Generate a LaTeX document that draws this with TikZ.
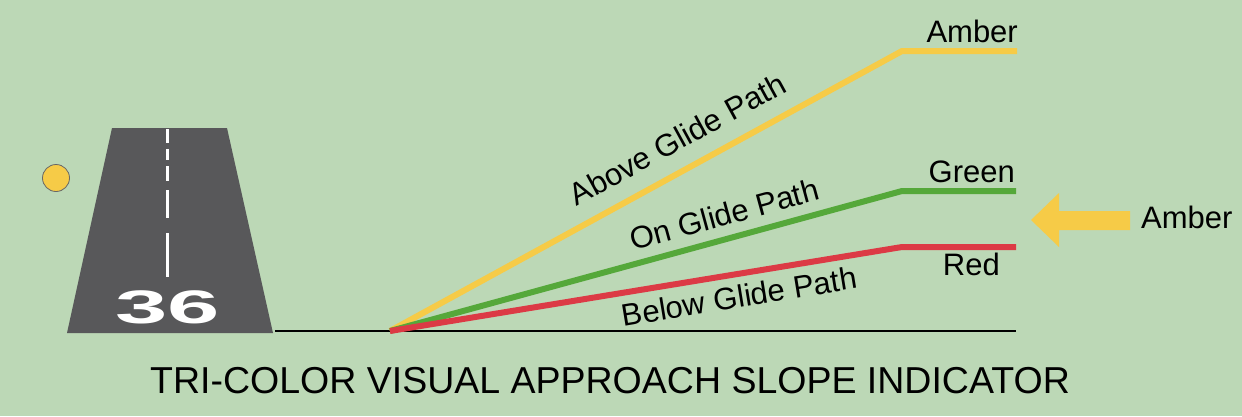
\documentclass[tikz,border=0pt]{standalone}
\usepackage{fontspec}
\setmainfont{Liberation Sans}
\usepackage{xcolor}
\usetikzlibrary{positioning}

\definecolor{fieldgreen}{HTML}{BCD8B6}
\definecolor{tarmac}{HTML}{58585A}
\definecolor{vasiamber}{HTML}{F6CB47}
\definecolor{vasigreen}{HTML}{55A83A}
\definecolor{vasired}{HTML}{DC3A45}

\begin{document}
\begin{tikzpicture}[
    x=1pt, y=-1pt,
    label/.style={
        font=\fontsize{31}{36}\selectfont,
        text=black,
        inner sep=0pt
    },
    glide/.style={
        line width=6pt,
        line join=miter
    },
    pathtext/.style={
        label,
        sloped
    }
]

% =========================================================
% Background and runway
% =========================================================
\fill[fieldgreen] (0,0) rectangle (1242,416);
\useasboundingbox (0,0) rectangle (1242,416);

\fill[tarmac] (112,128) -- (227,128) -- (273,333) -- (67,333) -- cycle;
\foreach \ya/\yb in {129/143, 149/160, 166/181, 190/218, 233/277}
    \draw[white, line width=3pt] (167,\ya) -- (167,\yb);

\node[anchor=base, text=white, inner sep=0pt] (rwynum) at (168,323)
    {\fontsize{47}{47}\selectfont\bfseries\scalebox{2}[1]{36}};

\node[circle, fill=vasiamber, draw=black!60, line width=0.8pt,
      minimum size=27pt, inner sep=0pt] (vasilight) at (56,178) {};

% =========================================================
% Ground line and glide paths
% =========================================================
\coordinate (groundL) at (275,331);
\coordinate (groundR) at (1016,331);
\coordinate (vasi) at (390,331);
\coordinate (amberbend) at (902,51);
\coordinate (amberend) at (1017,51);
\coordinate (greenbend) at (902,191);
\coordinate (greenend) at (1016,191);
\coordinate (redbend) at (902,247);
\coordinate (redend) at (1016,247);

\draw[black, line width=2.5pt] (groundL) -- (groundR);

\draw[glide, vasiamber] (vasi) --
    node[pathtext, above, inner ysep=16pt, pos=0.59] (abovetxt) {Above Glide Path}
    (amberbend) -- (amberend);
\draw[glide, vasigreen] (vasi) --
    node[pathtext, above, inner ysep=10pt, pos=0.665] (ontxt) {On Glide Path}
    (greenbend) -- (greenend);
\draw[glide, vasired] (vasi) --
    node[pathtext, below, inner ysep=8pt, pos=0.675] (belowtxt) {Below Glide Path}
    (redbend) -- (redend);

% =========================================================
% Colour labels
% =========================================================
\node[label, anchor=base east] (ambertop) at (1018,42) {Amber};
\node[label, anchor=base east] (greentxt) at (1015,182) {Green};
\node[label, anchor=base east] (redtxt) at (1000,275) {Red};

\node[label, anchor=base west] (amberside) at (1141,228) {Amber};
\fill[vasiamber] (1031,220) -- (1059,193) -- (1059,211) -- (1130,211)
    -- (1130,230) -- (1059,230) -- (1059,247) -- cycle;

% =========================================================
% Title
% =========================================================
\node[anchor=base, inner sep=0pt, font=\fontsize{37.5}{40}\selectfont] (title) at (610,393)
    {TRI-COLOR VISUAL APPROACH SLOPE INDICATOR};

\end{tikzpicture}
\end{document}
